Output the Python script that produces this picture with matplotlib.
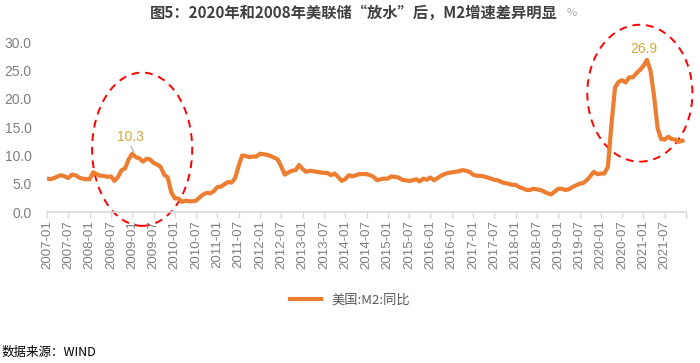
import matplotlib
matplotlib.use('Agg')
import matplotlib.pyplot as plt
from matplotlib.patches import Ellipse

plt.rcParams['font.family'] = ['Noto Sans CJK SC', 'DejaVu Sans']

# 美国 M2 同比 (%), 月度 2007-01 ... 2021-12
m2_2007 = [5.9, 5.8, 6.0, 6.3, 6.5, 6.3, 6.0, 6.6, 6.5, 6.1, 5.9, 5.8]
m2_2008 = [5.8, 7.0, 6.7, 6.4, 6.4, 6.2, 6.3, 5.5, 6.2, 7.4, 7.7, 9.3]
m2_2009 = [10.3, 9.7, 9.5, 8.9, 9.4, 9.3, 8.7, 8.4, 8.0, 6.6, 6.1, 3.5]
m2_2010 = [2.4, 2.4, 1.8, 2.0, 1.9, 1.9, 2.0, 2.6, 3.1, 3.4, 3.3, 3.7]
m2_2011 = [4.4, 4.5, 4.9, 5.3, 5.2, 6.0, 8.2, 10.0, 9.9, 9.7, 9.8, 9.8]
m2_2012 = [10.3, 10.2, 10.1, 9.9, 9.6, 9.3, 8.0, 6.6, 7.0, 7.3, 7.4, 8.3]
m2_2013 = [7.6, 7.1, 7.3, 7.2, 7.1, 7.0, 6.9, 6.9, 6.5, 6.8, 6.2, 5.5]
m2_2014 = [5.8, 6.5, 6.3, 6.5, 6.7, 6.7, 6.7, 6.5, 6.2, 5.6, 5.8, 5.9]
m2_2015 = [5.9, 6.3, 6.2, 6.1, 5.7, 5.6, 5.5, 5.6, 5.8, 5.4, 5.9, 5.7]
m2_2016 = [6.1, 5.6, 6.0, 6.4, 6.7, 6.9, 7.0, 7.1, 7.2, 7.4, 7.3, 7.1]
m2_2017 = [6.6, 6.4, 6.4, 6.3, 6.1, 5.9, 5.7, 5.6, 5.3, 5.1, 5.0, 4.8]
m2_2018 = [4.8, 4.4, 4.2, 3.9, 3.9, 4.1, 4.0, 3.9, 3.6, 3.3, 3.1, 3.6]
m2_2019 = [4.1, 4.1, 3.9, 4.0, 4.4, 4.7, 5.0, 5.1, 5.6, 6.3, 7.1, 6.7]
m2_2020 = [6.8, 6.8, 8.0, 15.5, 22.0, 23.0, 23.3, 22.9, 23.8, 23.8, 24.5, 25.1]
m2_2021 = [25.8, 26.9, 25.0, 20.5, 14.8, 12.9, 12.8, 13.3, 12.9, 12.8, 12.4, 12.6]

m2 = (m2_2007 + m2_2008 + m2_2009 + m2_2010 + m2_2011 + m2_2012 + m2_2013 + m2_2014
      + m2_2015 + m2_2016 + m2_2017 + m2_2018 + m2_2019 + m2_2020 + m2_2021)

years = list(range(2007, 2022))
tick_labels = []
for y in years:
    tick_labels += ['%d-01' % y, '%d-07' % y]

yticks = [0, 5, 10, 15, 20, 25, 30]

orange = '#ED7D31'
gold = '#D6A73A'
gray = '#7F7F7F'
latin = ['Liberation Sans', 'DejaVu Sans']

fig = plt.figure(figsize=(7.0, 3.63), dpi=100)
ax = fig.add_axes([47/700, 1-212/363, (686-47)/700, (212-42.3)/363])

x = list(range(len(m2)))
ax.plot(x, m2, color=orange, lw=3.0, solid_joinstyle='round', label='美国:M2:同比')

ax.set_xlim(0, 180)
ax.set_ylim(0, 30)
ax.set_yticks(yticks)
ax.set_yticklabels(['%.1f' % v for v in yticks], fontsize=10, color=gray, family=latin)
ax.tick_params(axis='y', length=0, pad=11)

ax.set_xticks(range(0, 181, 6))
ax.set_xticklabels(tick_labels + [''], rotation=90, fontsize=9.5, color=gray, family=latin)
ax.tick_params(axis='x', length=4, color='#D9D9D9', width=1, pad=2)

for side in ['top', 'right', 'left']:
    ax.spines[side].set_visible(False)
ax.spines['bottom'].set_color('#D9D9D9')
ax.spines['bottom'].set_linewidth(1.2)

# 数据标注
i1 = m2.index(max(m2[:48]))
ax.text(i1 - 0.5, 13.3, '%.1f' % m2[i1], color=gold, fontsize=10, ha='center', va='center',
        family=latin)
ax.plot([i1 - 0.4, i1 + 0.4], [11.6, 10.7], color='#A6A6A6', lw=0.8)
i2 = m2.index(max(m2))
ax.text(i2 - 0.8, 28.8, '%.1f' % m2[i2], color=gold, fontsize=10, ha='center', va='center',
        family=latin)

# 红色虚线椭圆
ax.add_patch(Ellipse((26.8, 11.1), 28.2, 27.1, fill=False, ec='#FF0000', lw=1.4,
                     ls=(0, (4, 3)), clip_on=False))
ax.add_patch(Ellipse((167.0, 21.0), 29.6, 24.2, fill=False, ec='#FF0000', lw=1.4,
                     ls=(0, (4, 3)), clip_on=False))

leg = fig.legend(loc='center', bbox_to_anchor=(350/700, 1-300/363), frameon=False,
                 fontsize=9.5, handlelength=2.4)
for t in leg.get_texts():
    t.set_color('#595959')

fig.text(354/700, 1-13/363, '图5：2020年和2008年美联储“放水”后，M2增速差异明显',
         ha='center', va='center', fontsize=11, fontweight='bold', color='#404040')
fig.text(572/700, 1-13/363, '%', ha='center', va='center', fontsize=8, color='#A6A6A6')
fig.text(2/700, 1-352/363, '数据来源：WIND', ha='left', va='center', fontsize=9, color='#000000')

fig.savefig('out.png', dpi=100)
